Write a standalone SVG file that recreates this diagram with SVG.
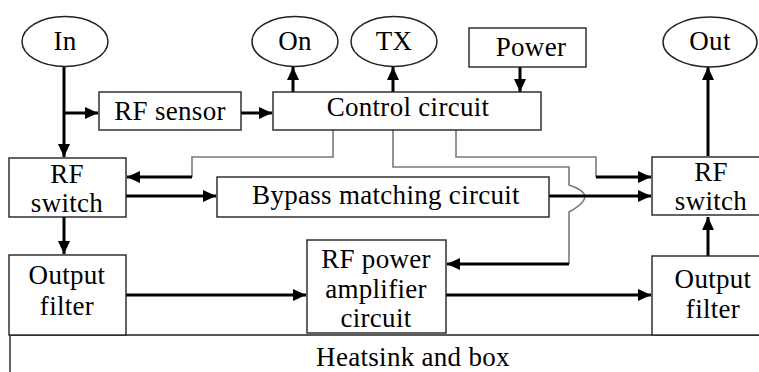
<svg xmlns="http://www.w3.org/2000/svg" width="759" height="372" viewBox="0 0 759 372">
<style>
text{font-family:"Liberation Serif","Times New Roman",serif;font-size:27px;letter-spacing:0.3px;fill:#000;text-anchor:middle}
.box{fill:#fff;stroke:#222;stroke-width:1.4}
.ell{fill:#fff;stroke:#222;stroke-width:1.5}
.a{fill:none;stroke:#000;stroke-width:3;marker-end:url(#ah)}
.g{fill:none;stroke:#7a7a7a;stroke-width:1.6}
</style>
<defs>
<marker id="ah" markerUnits="userSpaceOnUse" markerWidth="14" markerHeight="14" refX="13" refY="7" orient="auto">
<path d="M0,1 L13,7 L0,13 z" fill="#000"/>
</marker>
</defs>
<rect width="759" height="372" fill="#fff"/>
<g id="heatsink">
<path d="M10,372 V335 H759" fill="none" stroke="#222" stroke-width="1.4"/>
<text x="413" y="366">Heatsink and box</text>
</g>
<g id="connectors">
<path class="a" d="M64,67 V157"/>
<path class="a" d="M64,113 H98"/>
<path class="a" d="M241,113 H272"/>
<path class="a" d="M293,92 V67"/>
<path class="a" d="M393,92 V67"/>
<path class="a" d="M520,67 V92"/>
<path class="g" d="M333,130 V157 H192 V177"/>
<path class="a" d="M192,177 H127"/>
<path class="g" d="M456,130 V157 H596 V177"/>
<path class="a" d="M596,177 H651"/>
<path class="g" d="M393,130 V167 H569 V185 C590,192 590,200 569,212 V264"/>
<path class="a" d="M569,264 H447"/>
<path class="a" d="M126,196 H216"/>
<path class="a" d="M549,196 H651"/>
<path class="a" d="M64,217 V254"/>
<path class="a" d="M126,295 H306"/>
<path class="a" d="M446,295 H651"/>
<path class="a" d="M708,256 V217"/>
<path class="a" d="M708,156 V67"/>
</g>
<g id="in"><ellipse class="ell" cx="65" cy="41.5" rx="43" ry="25"/><text x="65" y="50">In</text></g>
<g id="on"><ellipse class="ell" cx="295" cy="41.5" rx="43" ry="25"/><text x="295" y="50">On</text></g>
<g id="tx"><ellipse class="ell" cx="394" cy="41.5" rx="43" ry="25"/><text x="394" y="50">TX</text></g>
<g id="out"><ellipse class="ell" cx="710" cy="42" rx="47" ry="25"/><text x="710" y="50">Out</text></g>
<g id="power"><rect class="box" x="469" y="28" width="117" height="39"/><text x="531" y="56">Power</text></g>
<g id="rf-sensor"><rect class="box" x="99" y="92" width="142" height="38"/><text x="170" y="120">RF sensor</text></g>
<g id="control"><rect class="box" x="273" y="92" width="268" height="38"/><text x="408" y="116">Control circuit</text></g>
<g id="rf-switch-left"><rect class="box" x="9" y="158" width="117" height="59"/><text x="67" y="183">RF</text><text x="67" y="212">switch</text></g>
<g id="bypass"><rect class="box" x="217" y="177" width="332" height="40"/><text x="386" y="204">Bypass matching circuit</text></g>
<g id="rf-switch-right"><rect class="box" x="652" y="157" width="110" height="58"/><text x="711" y="181">RF</text><text x="711" y="210">switch</text></g>
<g id="filter-left"><rect class="box" x="9" y="255" width="117" height="80"/><text x="67" y="284">Output</text><text x="67" y="315">filter</text></g>
<g id="amp"><rect class="box" x="307" y="240" width="139" height="93"/><text x="376" y="268">RF power</text><text x="376" y="298">amplifier</text><text x="376" y="327">circuit</text></g>
<g id="filter-right"><rect class="box" x="652" y="256" width="110" height="79"/><text x="713" y="288">Output</text><text x="713" y="318">filter</text></g>
</svg>
